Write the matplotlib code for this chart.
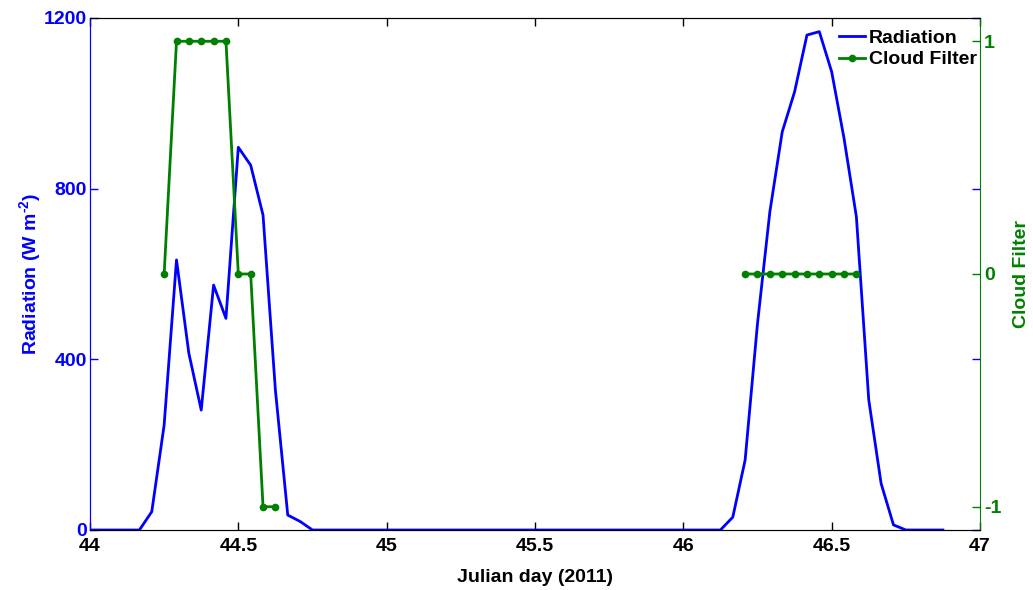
import numpy as np
import matplotlib
matplotlib.use('Agg')
import matplotlib.pyplot as plt

plt.rcParams['font.family'] = ['Liberation Sans', 'DejaVu Sans']
plt.rcParams['font.weight'] = 'bold'
plt.rcParams['axes.unicode_minus'] = False
plt.rcParams['mathtext.fontset'] = 'custom'
plt.rcParams['mathtext.rm'] = 'Liberation Sans:bold'
plt.rcParams['mathtext.bf'] = 'Liberation Sans:bold'
plt.rcParams['mathtext.default'] = 'bf'

# hourly samples starting at day 44.0
start_day = 44.0
step = 1 / 24
radiation = [0, 0, 0, 0, 0, 43, 246, 633, 414, 281, 574, 496, 897, 855, 738, 328, 35, 20, 0,
             0, 0, 0, 0, 0, 0, 0, 0, 0, 0, 0, 0, 0, 0, 0, 0, 0, 0, 0, 0, 0, 0, 0, 0, 0, 0, 0,
             0, 0, 0, 0, 0, 0, 30, 164, 484, 746, 933, 1027, 1160, 1168, 1074, 918, 734, 305,
             109, 12, 0, 0, 0, 0]
# cloud filter only defined on a few hours (index -> value)
cloud_idx = [6, 7, 8, 9, 10, 11, 12, 13, 14, 15,
             53, 54, 55, 56, 57, 58, 59, 60, 61, 62]
cloud_val = [0, 1, 1, 1, 1, 1, 0, 0, -1, -1,
             0, 0, 0, 0, 0, 0, 0, 0, 0, 0]

days = start_day + step * np.arange(len(radiation))
cloud = np.full(len(radiation), np.nan)
cloud[cloud_idx] = cloud_val

blue = '#0000ff'
green = '#008000'

fig = plt.figure(figsize=(10.33, 5.9), dpi=100)
ax1 = fig.add_axes([0.0871, 0.1017, 0.8616, 0.8678])
ax2 = ax1.twinx()

l1, = ax1.plot(days, radiation, color=blue, lw=2, label='Radiation')
l2, = ax2.plot(days, cloud, color=green, lw=2, marker='o', markersize=4.5, label='Cloud Filter')

ax1.set_xlim(44, 47)
ax1.set_ylim(0, 1200)
ax2.set_ylim(-1.1, 1.1)
ax1.set_xticks(np.arange(44, 47.01, 0.5))
ax1.set_xticklabels(['44', '44.5', '45', '45.5', '46', '46.5', '47'])
ax1.set_yticks([0, 400, 800, 1200])
ax2.set_yticks([-1, 0, 1])

ax1.tick_params(axis='x', direction='in', top=True, labelsize=14, colors='black', length=6, width=1, pad=6)
ax1.tick_params(axis='y', direction='in', right=True, labelsize=14, colors=blue, length=6, width=1, pad=2)
ax2.tick_params(axis='y', direction='in', labelsize=14, colors=green, length=6, width=1, pad=3)

ax1.spines['left'].set_color(blue)
ax2.spines['left'].set_color(blue)
ax2.spines['right'].set_color(green)
ax1.spines['right'].set_visible(False)

ax1.set_xlabel('Julian day (2011)', fontsize=14, fontweight='bold', labelpad=10)
ax1.set_ylabel('Radiation (W m$^{\\text{-2}}$)', fontsize=14, fontweight='bold', color=blue, labelpad=1)
ax2.set_ylabel('Cloud Filter', fontsize=14, fontweight='bold', color=green, labelpad=8)

ax2.legend([l1, l2], ['Radiation', 'Cloud Filter'], loc='upper right', frameon=False,
           fontsize=14, handlelength=1.3, handletextpad=0.2, borderaxespad=0.1,
           labelspacing=0.2, bbox_to_anchor=(1.007, 0.997))

fig.savefig('out.png', dpi=100)
